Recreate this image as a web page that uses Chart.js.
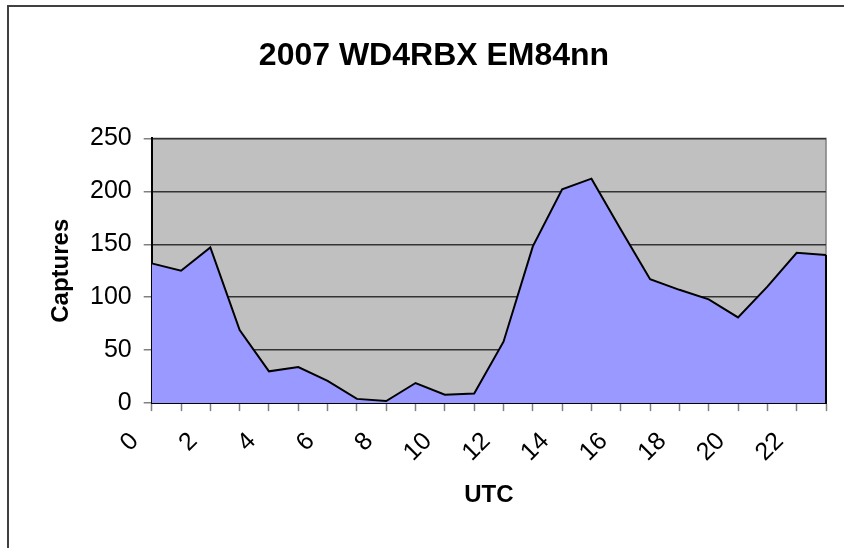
<!DOCTYPE html>
<html lang="en">
<head>
    <meta charset="UTF-8">
    <script src="https://cdn.jsdelivr.net/npm/chart.js"></script>
    <title>2007 WD4RBX EM84nn</title>
    <style>
        html, body { margin: 0; padding: 0; background: #ffffff; }
        #wrap { width: 844px; height: 548px; }
    </style>
</head>
<body>
    <div id="wrap"><canvas id="areaChart" width="844" height="548"></canvas></div>

    <script>
        // hours (UTC) and captures per hour
        var hours = ['0', '1', '2', '3', '4', '5', '6', '7', '8', '9', '10', '11',
                     '12', '13', '14', '15', '16', '17', '18', '19', '20', '21', '22', '23'];
        var captures = [132, 125, 147, 69, 30, 34, 21, 4, 2, 19, 8, 9,
                        58, 148, 202, 212, 164, 117, 107, 98, 81, 110, 142, 140];
        var yTicks = [0, 50, 100, 150, 200, 250];

        var FONT = 'Liberation Sans, Arial, sans-serif';

        // grey plot area, its border and the outer frame
        var plotBackground = {
            id: 'plotBackground',
            beforeDraw: function(chart) {
                var ctx = chart.ctx, a = chart.chartArea;
                ctx.save();
                ctx.fillStyle = '#ffffff';
                ctx.fillRect(0, 0, chart.width, chart.height);
                ctx.fillStyle = '#c0c0c0';
                ctx.fillRect(a.left, a.top, a.right - a.left, a.bottom - a.top);
                ctx.strokeStyle = '#808080';
                ctx.lineWidth = 1.5;
                ctx.strokeRect(a.left, a.top, a.right - a.left, a.bottom - a.top);
                ctx.strokeStyle = '#404040';
                ctx.lineWidth = 2;
                ctx.beginPath();
                ctx.moveTo(8, chart.height + 5);
                ctx.lineTo(8, 6);
                ctx.lineTo(chart.width + 5, 6);
                ctx.stroke();
                ctx.restore();
            },
            afterDatasetsDraw: function(chart) {
                // close the area outline on the right side
                var ctx = chart.ctx;
                var x = chart.scales.x.getPixelForValue(hours.length - 1);
                var y = chart.scales.y.getPixelForValue(captures[captures.length - 1]);
                var y0 = chart.scales.y.getPixelForValue(0);
                ctx.save();
                ctx.strokeStyle = '#000000';
                ctx.lineWidth = 2;
                ctx.beginPath();
                ctx.moveTo(x, y);
                ctx.lineTo(x, y0);
                ctx.stroke();
                ctx.restore();
            }
        };

        var ctx = document.getElementById('areaChart').getContext('2d');
        new Chart(ctx, {
            type: 'line',
            data: {
                labels: hours,
                datasets: [{
                    label: 'Captures',
                    data: captures,
                    fill: 'origin',
                    backgroundColor: '#9999ff',
                    borderColor: '#000000',
                    borderWidth: 2,
                    pointRadius: 0,
                    tension: 0
                }]
            },
            options: {
                responsive: false,
                animation: false,
                devicePixelRatio: 1,
                layout: { padding: { left: 42, right: 18, top: 0, bottom: 20 } },
                plugins: {
                    legend: { display: false },
                    tooltip: { enabled: false },
                    title: {
                        display: true,
                        text: '2007 WD4RBX EM84nn',
                        color: '#000000',
                        font: { family: FONT, size: 32, weight: 'bold' },
                        padding: { top: 37, bottom: 63 }
                    }
                },
                scales: {
                    x: {
                        type: 'category',
                        offset: false,
                        afterFit: function(scale) {
                            // the last hour has no label, so no room is needed on the right
                            scale.paddingRight = 0;
                        },
                        grid: {
                            drawOnChartArea: false,
                            tickLength: 8,
                            tickColor: '#808080',
                            tickWidth: 1.5
                        },
                        border: { color: '#000000', width: 2 },
                        ticks: {
                            autoSkip: false,
                            maxRotation: 45,
                            minRotation: 45,
                            padding: 15.5,
                            labelOffset: -17,
                            color: '#000000',
                            font: { family: FONT, size: 25 },
                            callback: function(value, index) {
                                return index % 2 === 0 ? hours[index] : '';
                            }
                        },
                        title: {
                            display: true,
                            text: 'UTC',
                            color: '#000000',
                            font: { family: FONT, size: 24, weight: 'bold', lineHeight: 1 },
                            padding: { top: 0, bottom: 21 }
                        }
                    },
                    y: {
                        min: 0,
                        max: 250,
                        afterBuildTicks: function(axis) {
                            axis.ticks = yTicks.map(function(v) { return { value: v }; });
                        },
                        grid: {
                            color: '#333333',
                            lineWidth: 1.5,
                            tickLength: 8,
                            tickColor: '#808080',
                            tickWidth: 1.5
                        },
                        border: { color: '#000000', width: 2 },
                        ticks: {
                            padding: 12,
                            color: '#000000',
                            font: { family: FONT, size: 25 }
                        },
                        title: {
                            display: true,
                            text: 'Captures',
                            color: '#000000',
                            font: { family: FONT, size: 24, weight: 'bold', lineHeight: 1 },
                            padding: { top: 7, bottom: 5 }
                        }
                    }
                }
            },
            plugins: [plotBackground]
        });
    </script>
</body>
</html>
